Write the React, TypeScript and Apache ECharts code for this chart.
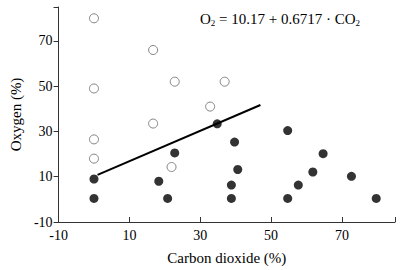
import React, { useEffect, useRef } from "react";
import * as echarts from "echarts";

const openX = [0, 0, 0, 0, 16.7, 16.7, 22.8, 32.8, 36.9, 21.9];
const openY = [80, 49, 26.5, 18, 66, 33.5, 52, 41, 52, 14.3];
const filledX = [0, 0, 18.3, 20.8, 22.8, 34.8, 54.7, 39.7, 40.6, 38.8, 38.8, 54.7, 57.7, 61.8, 64.7, 72.7, 79.7];
const filledY = [9, 0.4, 8, 0.4, 20.5, 33.4, 30.4, 25.3, 13.2, 6.3, 0.4, 0.4, 6.3, 12.1, 20.2, 10.2, 0.4];
const fitX = [1, 47];
const fitY = [10.8, 41.7];
const xTicks = [-10, 10, 30, 50, 70];
const yTicks = [-10, 10, 30, 50, 70];

const FONT = "Liberation Serif";

export default function App() {
  const ref = useRef<HTMLDivElement>(null);
  useEffect(() => {
    const chart = echarts.init(ref.current!, null, { renderer: "svg" });
    const pairs = (xs: number[], ys: number[]) => xs.map((x, i) => [x, ys[i]]);
    chart.setOption({
      animation: false,
      grid: { left: 48, right: 5, top: 7, bottom: 48 },
      xAxis: {
        type: "value",
        min: -10,
        max: 85,
        interval: 20,
        name: "Carbon dioxide (%)",
        nameLocation: "middle",
        nameGap: 28,
        nameTextStyle: { fontFamily: FONT, fontSize: 15, color: "#000" },
        axisLine: { onZero: false, lineStyle: { color: "#333", width: 1 } },
        axisTick: { inside: true, length: 5, lineStyle: { color: "#333" } },
        axisLabel: {
          fontFamily: FONT,
          fontSize: 14,
          color: "#000",
          margin: 6,
          formatter: (v: number) => (xTicks.includes(v) ? String(v) : ""),
        },
        splitLine: { show: false },
      },
      yAxis: {
        type: "value",
        min: -10,
        max: 85,
        interval: 20,
        name: "Oxygen (%)",
        nameLocation: "middle",
        nameGap: 35,
        nameTextStyle: { fontFamily: FONT, fontSize: 15, color: "#000" },
        axisLine: { show: true, onZero: false, lineStyle: { color: "#333", width: 1 } },
        axisTick: { show: true, inside: false, length: 5, lineStyle: { color: "#333" } },
        axisLabel: {
          fontFamily: FONT,
          fontSize: 14,
          color: "#000",
          margin: 6,
          formatter: (v: number) => (yTicks.includes(v) ? String(v) : ""),
        },
        splitLine: { show: false },
      },
      graphic: [
        {
          type: "text",
          left: 200,
          top: 10,
          style: {
            text: "{a|O}{s|2}{a| = 10.17 + 0.6717 · CO}{s|2}",
            rich: {
              a: { fontFamily: FONT, fontSize: 15, fill: "#000", lineHeight: 18 },
              s: { fontFamily: FONT, fontSize: 9, fill: "#000", lineHeight: 18, padding: [8, 0, 0, 0] },
            },
          },
        },
      ],
      series: [
        {
          type: "line",
          data: pairs(fitX, fitY),
          symbol: "none",
          lineStyle: { color: "#000", width: 2 },
          z: 1,
        },
        {
          type: "scatter",
          data: pairs(openX, openY),
          symbol: "circle",
          symbolSize: 9,
          itemStyle: { color: "#fff", borderColor: "#666", borderWidth: 1 },
          z: 2,
        },
        {
          type: "scatter",
          data: pairs(filledX, filledY),
          symbol: "circle",
          symbolSize: 9,
          itemStyle: { color: "#000" },
          z: 3,
        },
      ],
    });
    return () => chart.dispose();
  }, []);
  return <div ref={ref} style={{ width: 400, height: 270, position: "absolute", left: 0, top: 0 }} />;
}
